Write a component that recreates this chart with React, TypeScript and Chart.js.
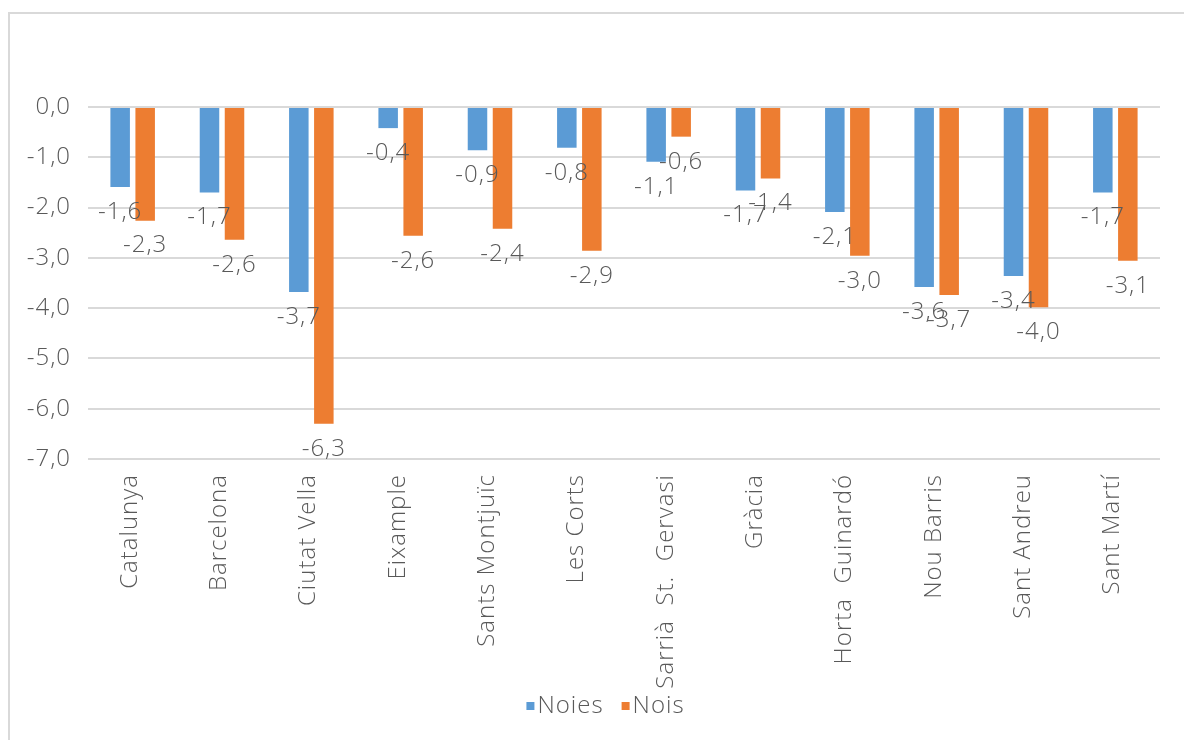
import React, { useEffect, useRef } from "react";
import { Chart, registerables } from "chart.js";

Chart.register(...registerables);

const categories = [
  "Catalunya",
  "Barcelona",
  "Ciutat Vella",
  "Eixample",
  "Sants Montjuïc",
  "Les Corts",
  "Sarrià  St.  Gervasi",
  "Gràcia",
  "Horta  Guinardó",
  "Nou Barris",
  "Sant Andreu",
  "Sant Martí",
];
const noies = [-1.59, -1.7, -3.68, -0.42, -0.86, -0.81, -1.09, -1.66, -2.09, -3.58, -3.36, -1.7];
const nois = [-2.26, -2.64, -6.3, -2.56, -2.42, -2.86, -0.59, -1.42, -2.96, -3.74, -3.98, -3.06];
const seriesNames = ["Noies", "Nois"];
const seriesColors = ["#5B9BD5", "#ED7D31"];
const yMin = -7;
const yMax = 0;

const FONT_FAMILY = "'Open Sans', 'Liberation Sans', sans-serif";
const FONT_SIZE = 24;
const LETTER_SPACING = "1px";
const TEXT_COLOR = "#595959";
const fmt = (v: number) => v.toFixed(1).replace(".", ",");

const spacingPlugin = {
  id: "letterSpacing",
  beforeDraw(chart: any) {
    (chart.ctx as any).letterSpacing = LETTER_SPACING;
  },
};

const dataLabelPlugin = {
  id: "dataLabels",
  afterDatasetsDraw(chart: any) {
    const ctx = chart.ctx;
    ctx.save();
    (ctx as any).letterSpacing = LETTER_SPACING;
    ctx.font = `300 ${FONT_SIZE}px ${FONT_FAMILY}`;
    ctx.fillStyle = TEXT_COLOR;
    ctx.textAlign = "center";
    ctx.textBaseline = "middle";
    chart.data.datasets.forEach((ds: any, di: number) => {
      const meta = chart.getDatasetMeta(di);
      meta.data.forEach((el: any, i: number) => {
        ctx.fillText(fmt(ds.data[i]), el.x, el.y + 25);
      });
    });
    ctx.restore();
  },
};

const legendPlugin = {
  id: "customLegend",
  afterDraw(chart: any) {
    const ctx = chart.ctx;
    ctx.save();
    (ctx as any).letterSpacing = LETTER_SPACING;
    ctx.font = `300 ${FONT_SIZE}px ${FONT_FAMILY}`;
    ctx.textBaseline = "middle";
    ctx.textAlign = "left";
    const y = 706;
    const gap = 3;
    const box = 8;
    const spacing = 18;
    const widths = chart.data.datasets.map((ds: any) => box + gap + ctx.measureText(ds.label).width);
    const total = widths.reduce((a: number, b: number) => a + b, 0) + spacing * (widths.length - 1);
    let x = 605.5 - total / 2;
    chart.data.datasets.forEach((ds: any, i: number) => {
      ctx.fillStyle = ds.backgroundColor;
      ctx.fillRect(x, y - box / 2, box, box);
      ctx.fillStyle = TEXT_COLOR;
      ctx.fillText(ds.label, x + box + gap, y);
      x += widths[i] + spacing;
    });
    ctx.restore();
  },
};

export default function App() {
  const canvasRef = useRef<HTMLCanvasElement | null>(null);

  useEffect(() => {
    if (!canvasRef.current) return;
    const chart = new Chart(canvasRef.current, {
      type: "bar",
      data: {
        labels: categories,
        datasets: [
          {
            label: seriesNames[0],
            data: noies,
            backgroundColor: seriesColors[0],
            categoryPercentage: 0.56,
            barPercentage: 0.78,
          },
          {
            label: seriesNames[1],
            data: nois,
            backgroundColor: seriesColors[1],
            categoryPercentage: 0.56,
            barPercentage: 0.78,
          },
        ],
      },
      options: {
        animation: false,
        responsive: false,
        devicePixelRatio: 1,
        layout: { padding: { top: 107, left: 0, right: 24, bottom: 0 } },
        plugins: {
          legend: { display: false },
          tooltip: { enabled: false },
        },
        scales: {
          x: {
            grid: { display: false, drawTicks: false },
            border: { display: false },
            ticks: {
              minRotation: 90,
              maxRotation: 90,
              autoSkip: false,
              padding: 15,
              labelOffset: -3,
              color: TEXT_COLOR,
              font: { family: FONT_FAMILY, size: FONT_SIZE, weight: "300" as any },
            },
            afterFit: (scale: any) => {
              scale.height = 281;
            },
          },
          y: {
            min: yMin,
            max: yMax,
            grid: { color: "#D9D9D9", lineWidth: 2, drawTicks: false },
            border: { display: false },
            ticks: {
              stepSize: 1,
              padding: 17,
              color: TEXT_COLOR,
              font: { family: FONT_FAMILY, size: FONT_SIZE, weight: "300" as any },
              callback: (v: any) => fmt(Number(v)),
            },
            afterFit: (scale: any) => {
              scale.width = 88;
            },
          },
        },
      },
      plugins: [spacingPlugin, dataLabelPlugin, legendPlugin],
    });
    return () => chart.destroy();
  }, []);

  return (
    <div style={{ position: "absolute", left: 0, top: 0, width: 1184, height: 740, background: "#fff", overflow: "hidden" }}>
      <div
        style={{
          position: "absolute",
          left: 8,
          top: 12,
          width: 1200,
          height: 760,
          borderLeft: "2px solid #D9D9D9",
          borderTop: "2px solid #D9D9D9",
        }}
      />
      <canvas ref={canvasRef} width={1184} height={740} style={{ position: "absolute", left: 0, top: 0 }} />
    </div>
  );
}
